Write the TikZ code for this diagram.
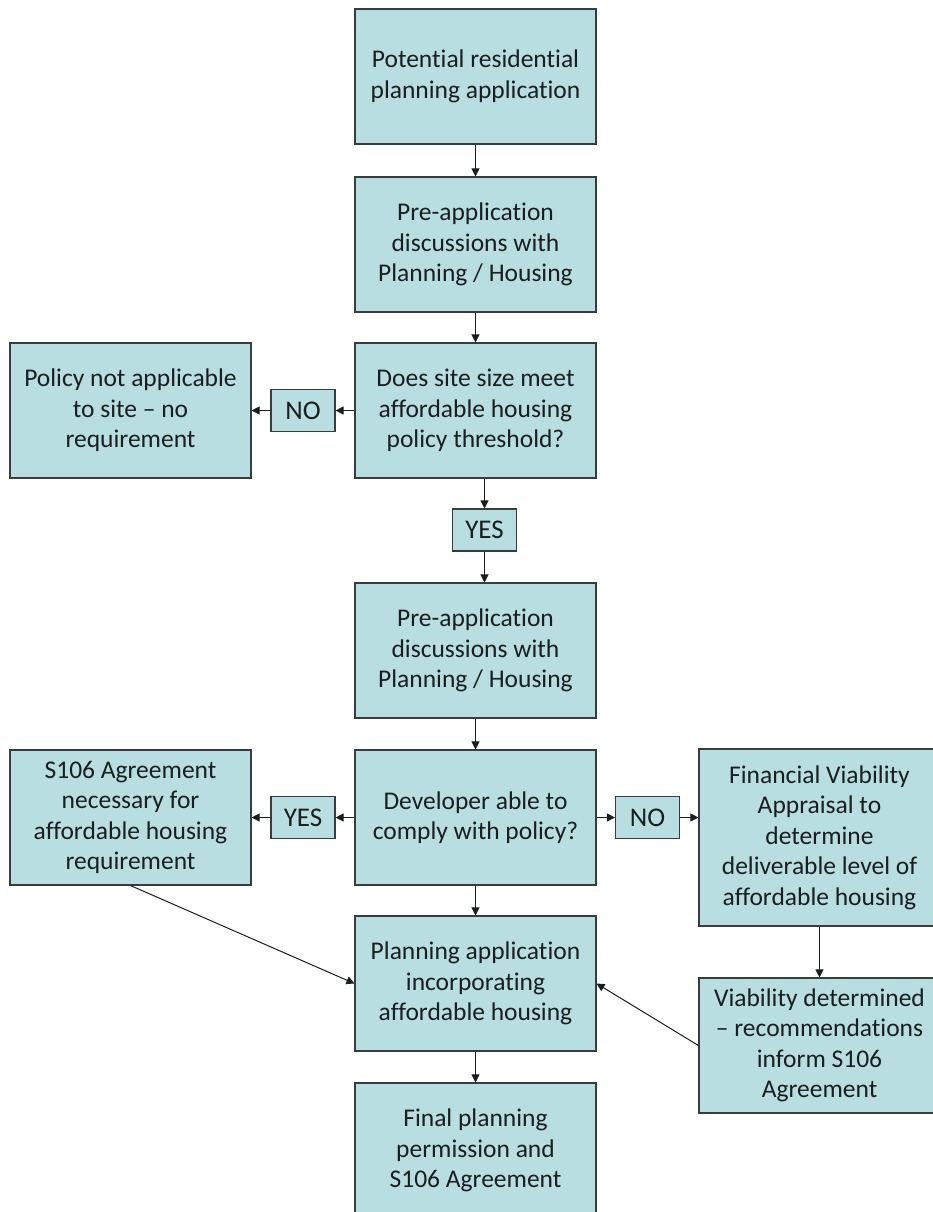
\documentclass[tikz,border=0pt]{standalone}
\usepackage{fontspec}
\setmainfont{Carlito}[Ligatures=NoCommon]
\usetikzlibrary{arrows.meta}
\definecolor{boxfill}{RGB}{185,222,226}
\definecolor{boxline}{RGB}{55,60,60}
\definecolor{inkdark}{RGB}{25,30,30}
\tikzset{
  flowbox/.style={draw=boxline, fill=boxfill, line width=1.1pt, text=inkdark,
    minimum width=241pt, minimum height=135pt, align=center, inner sep=2pt,
    font=\fontsize{25.5}{30.5}\selectfont},
  tallbox/.style={flowbox, minimum height=177pt},
  tagbox/.style={draw=boxline, fill=boxfill, line width=1.1pt, text=inkdark,
    minimum width=64pt, minimum height=42pt, inner sep=1pt,
    font=\fontsize{27}{30}\selectfont},
  flowarrow/.style={-{Triangle[length=8pt,width=8pt]}, line width=1pt, inkdark}
}
\begin{document}
\begin{tikzpicture}[x=1pt, y=-1pt]
    \useasboundingbox (0,0) rectangle (932,1212);

    % Main column
    \node[flowbox] (pot) at (475.5,76.5) {Potential residential\\planning application};
    \node[flowbox] (pre1) at (475.5,244.5) {Pre-application\\discussions with\\Planning / Housing};
    \node[flowbox] (site) at (475.5,410.5) {Does site size meet\\affordable housing\\policy threshold?};
    \node[tagbox] (yes1) at (484.5,530) {YES};
    \node[flowbox] (pre2) at (475.5,650.5) {Pre-application\\discussions with\\Planning / Housing};
    \node[flowbox] (dev) at (475.5,817.5) {Developer able to\\comply with policy?};
    \node[flowbox] (plan) at (475.5,983.5) {Planning application\\incorporating\\affordable housing};
    \node[flowbox] (final) at (475.5,1150.5) {Final planning\\permission and\\S106 Agreement};

    % Left branch
    \node[tagbox] (no1) at (303,410.5) {NO};
    \node[flowbox] (policy) at (130.5,410.5) {Policy not applicable\\to site -- no\\requirement};
    \node[tagbox] (yes2) at (303,817.5) {YES};
    \node[flowbox] (agree) at (130.5,817.5) {S106 Agreement\\necessary for\\affordable housing\\requirement};

    % Right branch
    \node[tagbox] (no2) at (647.5,817.5) {NO};
    \node[tallbox] (viab) at (819.5,837.5) {Financial Viability\\Appraisal to\\determine\\deliverable level of\\affordable housing};
    \node[flowbox] (result) at (819.5,1045.5) {Viability determined\\-- recommendations\\inform S106\\Agreement};

    % Connectors
    \draw[flowarrow] (pot) -- (pre1);
    \draw[flowarrow] (pre1) -- (site);
    \draw[flowarrow] (site.south -| yes1) -- (yes1);
    \draw[flowarrow] (yes1) -- (pre2.north -| yes1);
    \draw[flowarrow] (pre2) -- (dev);
    \draw[flowarrow] (dev) -- (plan);
    \draw[flowarrow] (plan) -- (final);
    \draw[flowarrow] (site) -- (no1);
    \draw[flowarrow] (no1) -- (policy);
    \draw[flowarrow] (dev) -- (yes2);
    \draw[flowarrow] (yes2) -- (agree);
    \draw[flowarrow] (dev) -- (no2);
    \draw[flowarrow] (no2) -- (viab.west |- no2);
    \draw[flowarrow] (viab) -- (result);
    \draw[flowarrow] (agree.south) -- (plan.west);
    \draw[flowarrow] (result.west) -- (plan.east);
\end{tikzpicture}
\end{document}
